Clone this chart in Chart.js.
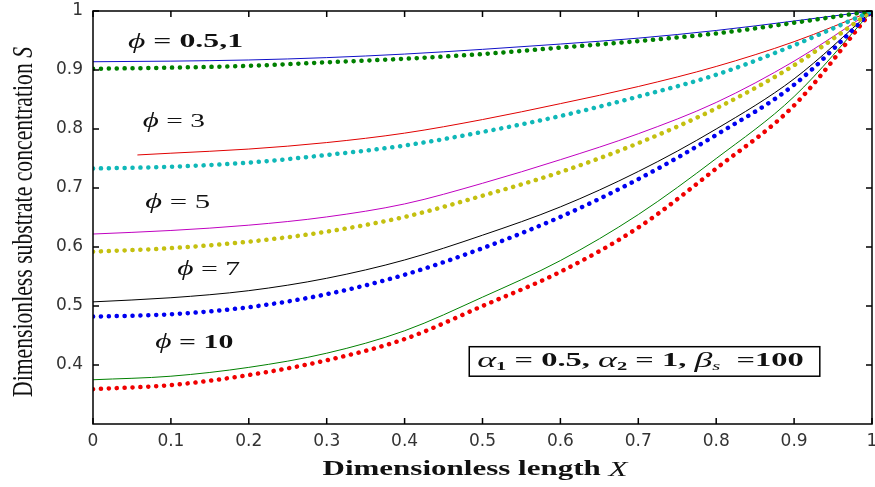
<!DOCTYPE html>
<html lang="en">
<head>
    <meta charset="UTF-8">
    <title>Dimensionless substrate concentration</title>
    <script src="https://cdn.jsdelivr.net/npm/chart.js@4.4.1/dist/chart.umd.min.js"></script>
    <style>
        html, body { margin: 0; padding: 0; background: #fff; }
        #wrap { width: 875px; height: 487px; position: relative; }
    </style>
</head>
<body>
    <div id="wrap"><canvas id="chart"></canvas></div>

    <script>
        // Dimensionless length X (shared grid)
        const xValues = [0, 0.1, 0.2, 0.3, 0.4, 0.5, 0.6, 0.7, 0.8, 0.9, 1];
        // the phi = 3 solid curve starts a little right of 0
        const phi3LineX = [0.057, 0.1, 0.2, 0.3, 0.4, 0.5, 0.6, 0.7, 0.8, 0.9, 1];

        // Dimensionless substrate concentration S
        const phiHalfLine = [0.914, 0.915, 0.917, 0.921, 0.927, 0.935, 0.944, 0.954, 0.967, 0.983, 1.0];
        const phiOneDots  = [0.902, 0.904, 0.907, 0.913, 0.919, 0.927, 0.938, 0.949, 0.962, 0.980, 1.0];
        const phi3Line    = [0.756, 0.759, 0.766, 0.777, 0.793, 0.816, 0.843, 0.872, 0.906, 0.948, 1.0];
        const phi3Dots    = [0.733, 0.736, 0.743, 0.756, 0.772, 0.795, 0.822, 0.855, 0.892, 0.942, 1.0];
        const phi5Line    = [0.622, 0.628, 0.637, 0.651, 0.673, 0.708, 0.748, 0.792, 0.845, 0.915, 1.0];
        const phi5Dots    = [0.592, 0.598, 0.609, 0.626, 0.651, 0.687, 0.727, 0.776, 0.835, 0.908, 1.0];
        const phi7Line    = [0.507, 0.514, 0.526, 0.547, 0.578, 0.620, 0.668, 0.728, 0.800, 0.885, 1.0];
        const phi7Dots    = [0.482, 0.486, 0.498, 0.520, 0.553, 0.598, 0.651, 0.715, 0.790, 0.875, 1.0];
        const phi10Line   = [0.375, 0.381, 0.396, 0.420, 0.458, 0.515, 0.577, 0.655, 0.750, 0.855, 1.0];
        const phi10Dots   = [0.359, 0.366, 0.383, 0.408, 0.444, 0.500, 0.558, 0.633, 0.733, 0.840, 1.0];

        // tick labels
        const xTickLabels = ['0', '0.1', '0.2', '0.3', '0.4', '0.5', '0.6', '0.7', '0.8', '0.9', '1'];
        const yTickLabels = ['', '0.4', '0.5', '0.6', '0.7', '0.8', '0.9', '1'];

        const serif = '"Liberation Serif", "Times New Roman", serif';
        const sans = '"DejaVu Sans", Arial, sans-serif';

        const pts = (xs, ys) => xs.map((x, i) => ({ x: x, y: ys[i] }));

        function solid(data, color) {
            return { data: data, borderColor: color, borderWidth: 1, pointRadius: 0,
                     cubicInterpolationMode: 'monotone', fill: false };
        }
        function dotted(data, color) {
            return { data: data, borderColor: color, borderWidth: 4.5, borderDash: [0.1, 7.8],
                     borderCapStyle: 'round', pointRadius: 0,
                     cubicInterpolationMode: 'monotone', fill: false };
        }

        // text drawn with mixed fonts, squeezed/stretched to a target width
        function richWidth(ctx, parts) {
            let w = 0;
            parts.forEach(p => { ctx.font = p.font; w += ctx.measureText(p.text).width; });
            return w;
        }
        function drawRich(ctx, parts, x, y, width, center) {
            const natural = richWidth(ctx, parts);
            const sx = width ? width / natural : 1;
            ctx.save();
            ctx.translate(x, y);
            ctx.scale(sx, 1);
            ctx.textBaseline = 'middle';
            ctx.textAlign = 'left';
            let cx = center ? -natural / 2 : 0;
            parts.forEach(p => {
                ctx.font = p.font;
                ctx.fillText(p.text, cx, p.dy || 0);
                cx += ctx.measureText(p.text).width;
            });
            ctx.restore();
        }

        const phiLabel = (val, bold) => [
            { text: '\u03D5', font: `italic 20px ${serif}` },
            { text: ' = ' + val, font: `${bold ? 'bold ' : ''}19px ${serif}` }
        ];

        // label anchors in data units (x = left edge, y = middle)
        const labels = [
            { parts: phiLabel('0.5,1', true), x: 0.045, y: 0.947, w: 115 },
            { parts: phiLabel('3', false), x: 0.064, y: 0.812, w: 62 },
            { parts: phiLabel('5', false), x: 0.067, y: 0.675, w: 65 },
            { parts: phiLabel('7', false), x: 0.108, y: 0.561, w: 63 },
            { parts: phiLabel('10', true), x: 0.080, y: 0.437, w: 78 }
        ];

        const boxParts = [
            { text: '\u03B1', font: `italic 21px ${serif}` },
            { text: '1', font: `bold 12px ${serif}`, dy: 5 },
            { text: ' = 0.5, ', font: `bold 19px ${serif}` },
            { text: '\u03B1', font: `italic 21px ${serif}` },
            { text: '2', font: `bold 12px ${serif}`, dy: 5 },
            { text: ' = 1, ', font: `bold 19px ${serif}` },
            { text: '\u03B2', font: `italic 21px ${serif}` },
            { text: 's', font: `italic 12px ${serif}`, dy: 5 },
            { text: '  =100', font: `bold 19px ${serif}` }
        ];

        const decorations = {
            id: 'decorations',
            afterDraw(chart) {
                const ctx = chart.ctx;
                const a = chart.chartArea;
                const xs = chart.scales.x, ys = chart.scales.y;

                // box frame
                ctx.save();
                ctx.strokeStyle = '#000';
                ctx.lineWidth = 1.5;
                ctx.strokeRect(a.left, a.top, a.right - a.left, a.bottom - a.top);

                // inward ticks on all four sides
                const tl = 6;
                ctx.beginPath();
                xs.ticks.forEach(t => {
                    const px = xs.getPixelForValue(t.value);
                    ctx.moveTo(px, a.bottom); ctx.lineTo(px, a.bottom - tl);
                    ctx.moveTo(px, a.top); ctx.lineTo(px, a.top + tl);
                });
                ys.ticks.forEach(t => {
                    if (t.value < 0.35) return;
                    const py = ys.getPixelForValue(t.value);
                    ctx.moveTo(a.left, py); ctx.lineTo(a.left + tl, py);
                    ctx.moveTo(a.right, py); ctx.lineTo(a.right - tl, py);
                });
                ctx.stroke();

                // phi labels
                ctx.fillStyle = '#111';
                labels.forEach(l => {
                    drawRich(ctx, l.parts, xs.getPixelForValue(l.x), ys.getPixelForValue(l.y), l.w, false);
                });

                // parameter box
                const bx0 = xs.getPixelForValue(0.483), bx1 = xs.getPixelForValue(0.933);
                const by0 = ys.getPixelForValue(0.431), by1 = ys.getPixelForValue(0.381);
                ctx.fillStyle = '#fff';
                ctx.fillRect(bx0, by0, bx1 - bx0, by1 - by0);
                ctx.lineWidth = 1.5;
                ctx.strokeStyle = '#000';
                ctx.strokeRect(bx0, by0, bx1 - bx0, by1 - by0);
                ctx.fillStyle = '#111';
                drawRich(ctx, boxParts, bx0 + 8, (by0 + by1) / 2, bx1 - bx0 - 24, false);

                // axis titles
                drawRich(ctx, [
                    { text: 'Dimensionless length ', font: `bold 21px ${serif}` },
                    { text: 'X', font: `italic 21px ${serif}` }
                ], 475, 470, 305, true);

                ctx.save();
                ctx.translate(24, 222);
                ctx.rotate(-Math.PI / 2);
                drawRich(ctx, [
                    { text: 'Dimensionless substrate concentration ', font: `30px ${serif}` },
                    { text: 'S', font: `italic 30px ${serif}` }
                ], 0, 0, 350, true);
                ctx.restore();

                ctx.restore();
            }
        };

        new Chart(document.getElementById('chart'), {
            type: 'line',
            data: {
                datasets: [
                    dotted(pts(xValues, phiOneDots), '#008000'),
                    solid(pts(xValues, phiHalfLine), '#1010c8'),
                    dotted(pts(xValues, phi3Dots), '#10b8b8'),
                    solid(pts(phi3LineX, phi3Line), '#e00000'),
                    dotted(pts(xValues, phi5Dots), '#c4c010'),
                    solid(pts(xValues, phi5Line), '#c000c0'),
                    dotted(pts(xValues, phi7Dots), '#0000f0'),
                    solid(pts(xValues, phi7Line), '#000000'),
                    dotted(pts(xValues, phi10Dots), '#f00000'),
                    solid(pts(xValues, phi10Line), '#008000')
                ]
            },
            options: {
                responsive: true,
                maintainAspectRatio: false,
                animation: false,
                devicePixelRatio: 1,
                layout: { padding: { top: 11, right: 3, bottom: 0, left: 0 } },
                plugins: { legend: { display: false }, tooltip: { enabled: false } },
                scales: {
                    x: {
                        type: 'linear',
                        min: 0, max: 1,
                        afterFit: s => {
                            s.height = 63;
                            s.paddingLeft = 0; s.paddingRight = 0;
                        },
                        grid: { display: false, drawTicks: false },
                        border: { display: false },
                        ticks: {
                            stepSize: 0.1,
                            padding: 7,
                            maxRotation: 0,
                            color: '#333',
                            font: { family: sans, size: 17 },
                            callback: (v, i) => xTickLabels[i]
                        }
                    },
                    y: {
                        min: 0.3, max: 1,
                        afterFit: s => {
                            s.width = 93;
                            s.paddingTop = 0; s.paddingBottom = 0;
                        },
                        grid: { display: false, drawTicks: false },
                        border: { display: false },
                        ticks: {
                            stepSize: 0.1,
                            padding: 10,
                            color: '#333',
                            font: { family: sans, size: 17 },
                            callback: (v, i) => yTickLabels[i]
                        }
                    }
                }
            },
            plugins: [decorations]
        });
    </script>
</body>
</html>
